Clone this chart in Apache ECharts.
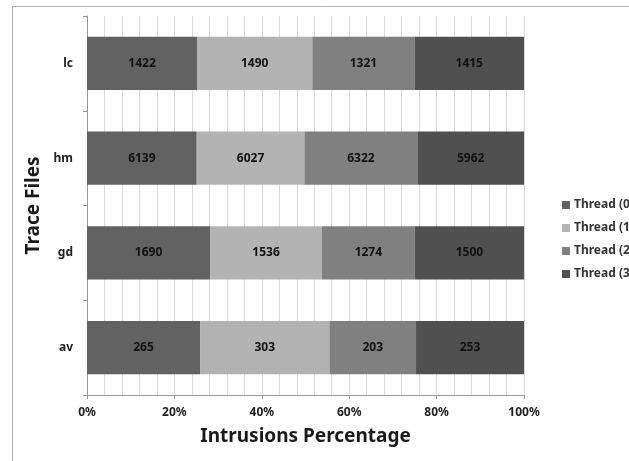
<!DOCTYPE html>
<html><head><meta charset="utf-8">
<script src="https://cdn.jsdelivr.net/npm/echarts@6/dist/echarts.min.js"></script>
<style>html,body{margin:0;padding:0;background:#fff}#c{width:629px;height:461px}</style>
</head><body><div id="c"></div>
<script>
var categories = ['av', 'gd', 'hm', 'lc'];
var seriesNames = ['Thread (0', 'Thread (1', 'Thread (2', 'Thread (3'];
var thread0 = [265, 1690, 6139, 1422];
var thread1 = [303, 1536, 6027, 1490];
var thread2 = [203, 1274, 6322, 1321];
var thread3 = [253, 1500, 5962, 1415];
var colors = ['#626262', '#b3b3b3', '#808080', '#505050'];

var raw = [thread0, thread1, thread2, thread3];
var totals = categories.map(function (c, i) {
  return raw.reduce(function (s, arr) { return s + arr[i]; }, 0);
});
var FONT = 'Noto Sans';
var chart = echarts.init(document.getElementById('c'));
chart.setOption({
  animation: false,
  backgroundColor: '#fff',
  color: colors,
  textStyle: { fontFamily: FONT },
  grid: { left: 87, right: 105, top: 16, bottom: 66 },
  legend: {
    orient: 'vertical', left: 557, top: 192, itemWidth: 8, itemHeight: 8, itemGap: 7,
    icon: 'rect',
    textStyle: { fontFamily: FONT, fontWeight: 'bold', fontSize: 12, lineHeight: 16, color: '#333', padding: [0, 0, 0, -1] },
    data: seriesNames
  },
  xAxis: {
    type: 'value', min: 0, max: 100, interval: 20,
    name: 'Intrusions Percentage', nameLocation: 'middle', nameGap: 32,
    nameTextStyle: { fontFamily: FONT, fontWeight: 'bold', fontSize: 19, color: '#1a1a1a' },
    axisLine: { show: true, lineStyle: { color: '#999' } },
    axisTick: { show: true, length: 4, lineStyle: { color: '#999' } },
    axisLabel: { formatter: '{value}%', fontFamily: FONT, fontWeight: 'bold', fontSize: 12, color: '#222', margin: 12 },
    splitLine: { show: true, lineStyle: { color: '#d9d9d9' } },
    minorTick: { show: false, splitNumber: 5 },
    minorSplitLine: { show: true, lineStyle: { color: '#d9d9d9' } }
  },
  yAxis: {
    type: 'category', data: categories,
    name: 'Trace Files', nameLocation: 'middle', nameGap: 38, nameRotate: 90,
    nameTextStyle: { fontFamily: FONT, fontWeight: 'bold', fontSize: 19, color: '#1a1a1a' },
    axisLine: { show: true, lineStyle: { color: '#999' } },
    axisTick: { show: true, length: 4, lineStyle: { color: '#999' } },
    axisLabel: { fontFamily: FONT, fontWeight: 'bold', fontSize: 12, color: '#222', margin: 14 }
  },
  series: raw.map(function (arr, k) {
    return {
      name: seriesNames[k], type: 'bar', stack: 'all', barCategoryGap: '44%',
      itemStyle: { color: colors[k] },
      label: {
        show: true, position: 'inside', fontFamily: FONT, fontWeight: 'bold', fontSize: 12, color: '#111',
        formatter: function (p) { return String(arr[p.dataIndex]); }
      },
      data: arr.map(function (v, i) { return v / totals[i] * 100; })
    };
  }),
  graphic: [
    { type: 'line', shape: { x1: 12.5, y1: 6, x2: 12.5, y2: 461 }, style: { stroke: '#b0b0b0', lineWidth: 1 } },
    { type: 'line', shape: { x1: 12, y1: 6.5, x2: 629, y2: 6.5 }, style: { stroke: '#b0b0b0', lineWidth: 1 } }
  ]
});
</script></body></html>
